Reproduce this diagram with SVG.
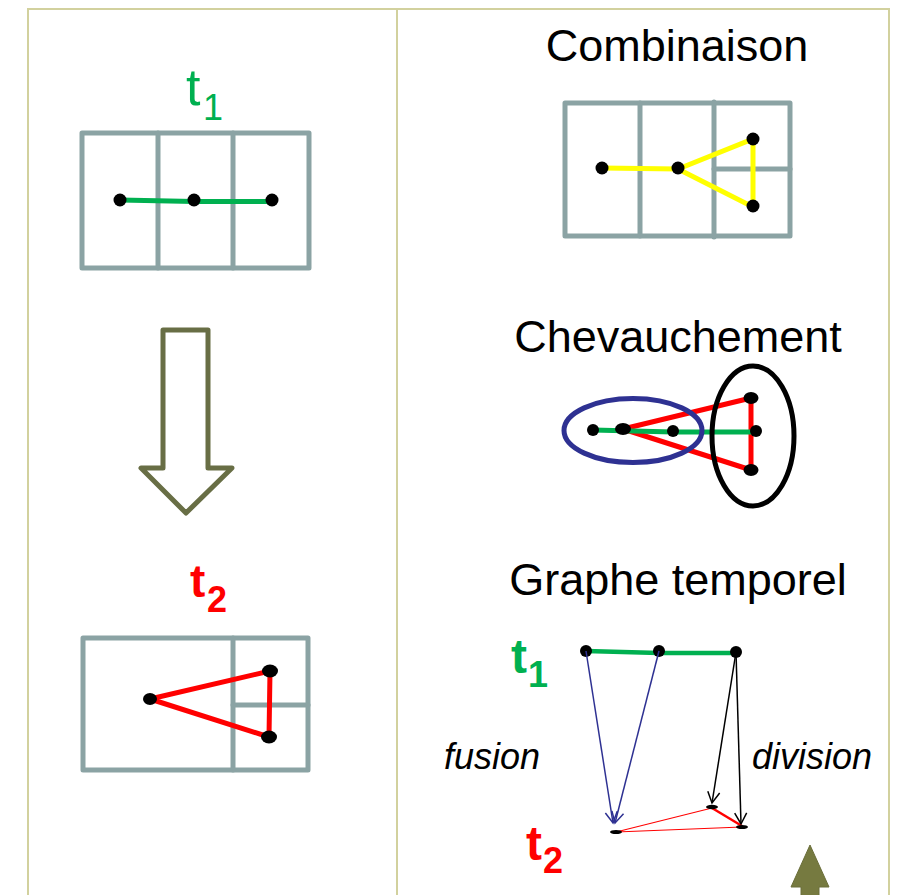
<svg xmlns="http://www.w3.org/2000/svg" width="908" height="895" viewBox="0 0 908 895">
<style>
.frame{fill:none;stroke:#d2d19e;stroke-width:2}
.grid{fill:none;stroke:#8ba3a4;stroke-width:5;stroke-linejoin:round;stroke-linecap:round}
.dot{fill:#000}
.g{stroke:#00b050;stroke-width:5;fill:none;stroke-linecap:round}
.r{stroke:#ff0000;stroke-width:5;fill:none;stroke-linecap:round}
.y{stroke:#ffff00;stroke-width:5;fill:none;stroke-linecap:round}
.title{font-family:"Liberation Sans",Arial,sans-serif;font-size:45px;fill:#000;text-anchor:middle}
.lab{font-family:"Liberation Sans",Arial,sans-serif;fill:#000;font-style:italic;font-size:36px}
.blue{stroke:#2e3192;stroke-width:1.5;fill:none}
.blk{stroke:#000;stroke-width:1.5;fill:none}
</style>
<defs>
<marker id="ab" viewBox="0 0 14 14" refX="12" refY="7" markerWidth="14" markerHeight="14" markerUnits="userSpaceOnUse" orient="auto">
<path d="M1,1 L12,7 L1,13" fill="none" stroke="#2e3192" stroke-width="1.5"/>
</marker>
<marker id="ak" viewBox="0 0 14 14" refX="12" refY="7" markerWidth="14" markerHeight="14" markerUnits="userSpaceOnUse" orient="auto">
<path d="M1,1 L12,7 L1,13" fill="none" stroke="#000" stroke-width="1.5"/>
</marker>
</defs>
<rect width="908" height="895" fill="#fff"/>
<g id="frame">
<path class="frame" d="M28,900 V9 H889 V900 M397,9 V900"/>
</g>

<g id="t1-left">
<text x="186" y="105" font-family="Liberation Sans,Arial,sans-serif" font-size="52" fill="#00b050">t</text>
<text x="203" y="120" font-family="Liberation Sans,Arial,sans-serif" font-size="36" fill="#00b050">1</text>
</g>
<g id="grid-t1">
<rect class="grid" x="82" y="133" width="227" height="135"/>
<line class="grid" x1="158" y1="133" x2="158" y2="268"/>
<line class="grid" x1="233" y1="133" x2="233" y2="268"/>
<polyline class="g" points="120,200 194,201.5 272,201.5"/>
<circle class="dot" cx="120" cy="200" r="6.5"/>
<circle class="dot" cx="194" cy="200" r="6.5"/>
<circle class="dot" cx="272" cy="200" r="6.5"/>
</g>

<g id="down-arrow">
<path d="M163,330 H208 V468 H232 L186,513 L141,468 H163 Z" fill="#fff" stroke="#686e45" stroke-width="5" stroke-linejoin="round"/>
</g>

<g id="t2-left">
<text x="190" y="597" font-family="Liberation Sans,Arial,sans-serif" font-size="46" font-weight="bold" fill="#ff0000">t</text>
<text x="207" y="612" font-family="Liberation Sans,Arial,sans-serif" font-size="36" font-weight="bold" fill="#ff0000">2</text>
</g>
<g id="grid-t2">
<rect class="grid" x="83" y="638" width="225" height="132"/>
<line class="grid" x1="233" y1="638" x2="233" y2="770"/>
<line class="grid" x1="233" y1="705" x2="308" y2="705"/>
<line class="r" x1="150" y1="699" x2="270" y2="671"/>
<line class="r" x1="150" y1="699" x2="269" y2="737"/>
<line class="r" x1="270" y1="671" x2="269" y2="737"/>
<ellipse class="dot" cx="150" cy="699" rx="7" ry="6"/>
<ellipse class="dot" cx="270" cy="671" rx="8" ry="6.5"/>
<ellipse class="dot" cx="269" cy="737" rx="8" ry="6.5"/>
</g>

<g id="combinaison">
<text class="title" x="677" y="61">Combinaison</text>
<rect class="grid" x="565" y="103" width="225" height="133"/>
<line class="grid" x1="640" y1="103" x2="640" y2="236"/>
<line class="grid" x1="714" y1="102" x2="714" y2="237"/>
<line class="grid" x1="714" y1="169" x2="790" y2="169"/>
<polyline class="y" points="602,168 678,169 753,139 753,207 678,169"/>
<circle class="dot" cx="602" cy="168" r="6.5"/>
<circle class="dot" cx="678" cy="168" r="6.5"/>
<circle class="dot" cx="753" cy="139" r="6.5"/>
<circle class="dot" cx="753" cy="206" r="6.5"/>
</g>

<g id="chevauchement">
<text class="title" x="678" y="352">Chevauchement</text>
<polyline class="r" points="623,429 751,398 751,470 623,429"/>
<polyline class="g" points="593,430 673,432 756,432"/>
<ellipse cx="633" cy="430.5" rx="69" ry="32" fill="none" stroke="#2e3192" stroke-width="5"/>
<ellipse cx="753" cy="436" rx="41" ry="70" fill="none" stroke="#000" stroke-width="5"/>
<circle class="dot" cx="593" cy="430" r="6"/>
<ellipse class="dot" cx="623" cy="429" rx="8" ry="6"/>
<circle class="dot" cx="673" cy="431" r="6"/>
<ellipse class="dot" cx="751" cy="398" rx="7.5" ry="6"/>
<circle class="dot" cx="756" cy="431" r="6"/>
<ellipse class="dot" cx="751" cy="470" rx="7.5" ry="6"/>
</g>

<g id="graphe-temporel">
<text class="title" x="678" y="595">Graphe temporel</text>
<text x="511" y="673" font-family="Liberation Sans,Arial,sans-serif" font-size="48" font-weight="bold" fill="#00b050">t</text>
<text x="528" y="687" font-family="Liberation Sans,Arial,sans-serif" font-size="36" font-weight="bold" fill="#00b050">1</text>
<text x="526" y="860" font-family="Liberation Sans,Arial,sans-serif" font-size="48" font-weight="bold" fill="#ff0000">t</text>
<text x="543" y="873" font-family="Liberation Sans,Arial,sans-serif" font-size="36" font-weight="bold" fill="#ff0000">2</text>
<text class="lab" x="444" y="769">fusion</text>
<text class="lab" x="752" y="769">division</text>
<polyline points="586,651 659,653 736,653" fill="none" stroke="#00b050" stroke-width="4.5"/>
<circle class="dot" cx="586" cy="651" r="6"/>
<circle class="dot" cx="659" cy="651" r="6"/>
<circle class="dot" cx="736" cy="652" r="6"/>
<line x1="616" y1="832" x2="712" y2="808" stroke="#ff0000" stroke-width="1.2"/>
<line x1="616" y1="832" x2="742" y2="827" stroke="#ff0000" stroke-width="1.2"/>
<line x1="712" y1="808" x2="742" y2="826" stroke="#ff0000" stroke-width="2.5"/>
<ellipse class="dot" cx="616" cy="832" rx="6" ry="2"/>
<ellipse class="dot" cx="712" cy="807" rx="6" ry="2.2"/>
<ellipse class="dot" cx="742" cy="827" rx="6" ry="2"/>
</g>

<g id="connectors">
<line class="blue" x1="586" y1="651" x2="613" y2="823" marker-end="url(#ab)"/>
<line class="blue" x1="659" y1="651" x2="615" y2="823" marker-end="url(#ab)"/>
<line class="blk" x1="736" y1="652" x2="712" y2="803" marker-end="url(#ak)"/>
<line class="blk" x1="736" y1="652" x2="741" y2="824" marker-end="url(#ak)"/>
</g>

<g id="up-arrow">
<path d="M810,845 L829,887 H819 V900 H801 V887 H791 Z" fill="#767a40" stroke="#6a6e3a" stroke-width="1"/>
</g>
</svg>
